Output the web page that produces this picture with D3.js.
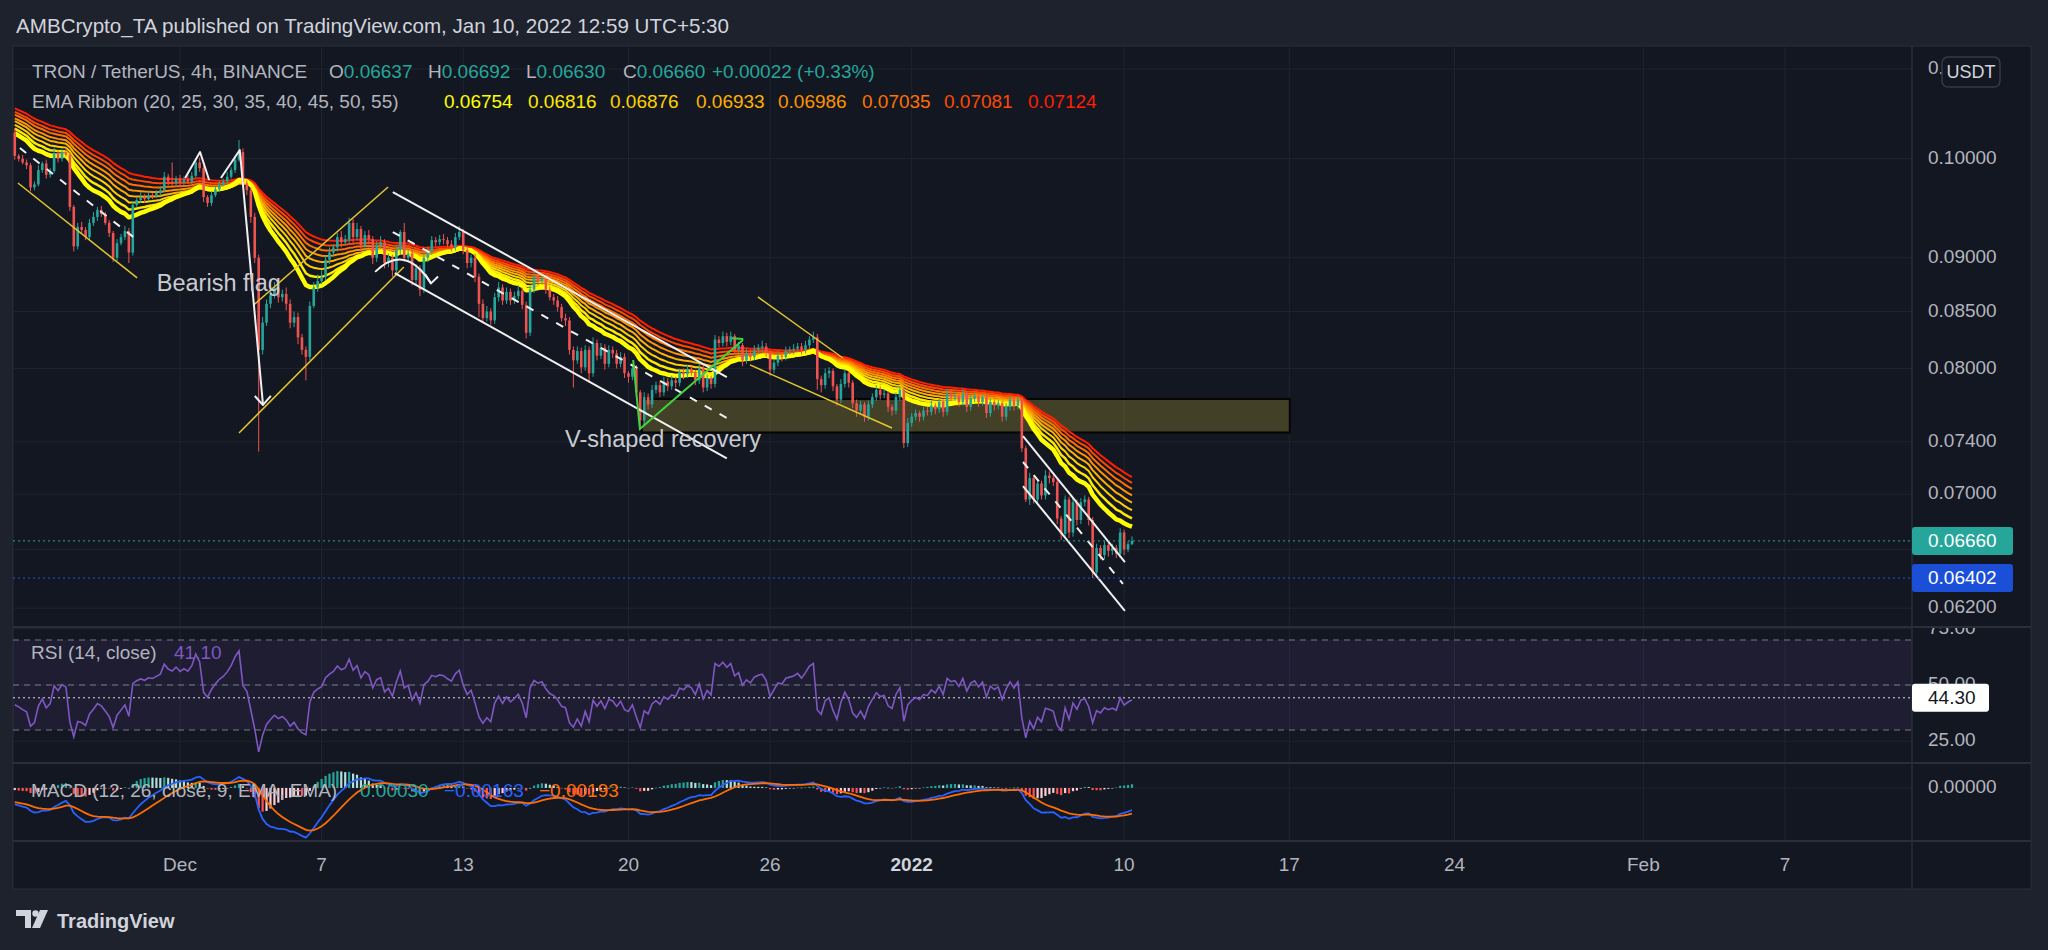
<!DOCTYPE html>
<html>
<head>
<meta charset="utf-8">
<script src="https://cdn.jsdelivr.net/npm/d3@7"></script>
<style>
  html, body { margin: 0; padding: 0; background: #1e222d; }
  svg { display: block; font-family: "Liberation Sans", Arial, sans-serif; }
</style>
</head>
<body>
<svg id="chart" width="2048" height="950"></svg>
<script>
// ---- data (prices in 1e-5 USDT, 4h bars from Nov 24 01:30 local) ----
const firstOpen = 10280;
const closes = [
  10030,10000,9960,9930,9700,9730,9880,9950,9830,9870,
  10060,10000,10070,10040,9500,9110,9300,9270,9200,9340,
  9400,9470,9430,9340,9240,9000,9140,9200,9260,9050,
  9520,9570,9600,9580,9620,9610,9640,9670,9810,9760,
  9740,9790,9750,9780,9760,9820,9960,9900,9600,9540,
  9620,9680,9730,9760,9810,9880,9990,10070,9740,9670,
  9400,9000,8160,8400,8570,8650,8720,8630,8660,8570,
  8400,8450,8270,8160,8100,8550,8720,8780,8820,8980,
  9050,9100,9200,9150,9180,9340,9200,9280,9120,9220,
  9180,9000,9120,9150,8950,9000,8880,9075,9250,9000,
  9040,8790,8900,8700,9000,9060,9170,9150,9180,9170,
  9130,9100,9200,9250,9075,8950,9000,8820,8570,8440,
  8500,8420,8630,8720,8600,8680,8600,8640,8690,8560,
  8310,8700,8820,8780,8800,8700,8630,8600,8540,8440,
  8420,8160,8070,8150,8010,8160,7960,8220,8110,8180,
  8040,8160,8130,8040,8100,7960,7930,8000,7800,7570,
  7760,7700,7820,7860,7800,7890,7850,7900,7880,7970,
  7950,7990,7970,7900,8000,7840,7920,7870,8250,8220,
  8280,8230,8280,8160,8200,8070,8130,8100,8160,8180,
  8190,8140,7990,8050,8110,8100,8150,8160,8170,8190,
  8160,8200,8250,8270,7910,7860,7960,7980,7850,7740,
  7870,7960,7880,7710,7650,7700,7600,7700,7760,7820,
  7780,7790,7680,7650,7760,7820,7390,7550,7600,7630,
  7600,7650,7640,7690,7660,7720,7640,7790,7760,7770,
  7720,7790,7680,7750,7770,7720,7760,7630,7720,7690,
  7710,7600,7680,7740,7690,7740,7350,6960,7120,6960,
  7080,6990,7140,7120,7090,6820,6710,6960,6720,6940,
  6810,6940,6960,6810,6440,6610,6560,6630,6590,6610,
  6570,6720,6600,6637,6660
];
const wickUp = [
  50,20,40,30,25,30,50,20,40,30, 60,30,40,45,30,20,40,50,30,40,
  50,30,40,20,30,20,40,30,50,30, 40,30,50,30,40,20,30,40,50,30,
  200,30,40,30,50,40,30,50,30,20, 40,30,40,30,50,30,40,130,40,30,
  30,40,30,50,40,60,50,80,40,60, 40,50,40,30,30,40,50,60,60,40,
  50,30,40,60,40,50,40,60,30,40, 50,30,40,60,30,40,30,50,20,90,
  40,30,40,30,40,50,40,30,40,50, 30,40,40,60,30,40,30,40,30,40,
  50,30,40,50,30,40,30,40,50,30, 30,40,60,40,30,40,30,30,40,30,
  40,30,30,40,30,40,30,50,30,40, 30,40,30,30,40,30,20,40,30,20,
  40,30,40,30,30,40,30,40,30,30, 30,40,30,20,40,30,30,20,40,30,
  40,30,40,20,30,20,40,30,40,30, 50,30,20,30,40,30,40,30,40,30,
  30,40,30,50,30,30,40,30,20,20, 40,30,20,20,30,30,20,30,30,40,
  30,30,20,20,40,30,20,40,30,30, 20,30,30,40,20,30,20,40,30,30,
  20,40,20,30,30,20,30,20,30,20, 30,20,30,30,20,30,20,20,40,20,
  30,20,40,30,20,20,20,30,20,30, 20,30,30,20,20,30,20,30,20,30,
  20,30,20,20,32
];
const wickDn = [
  40,30,20,40,40,30,20,30,40,30, 20,40,30,20,40,50,30,40,30,20,
  30,40,30,20,40,40,30,20,30,100, 30,20,30,40,20,30,20,30,20,40,
  30,20,40,30,20,30,20,40,50,40, 30,20,30,20,30,20,30,20,40,50,
  60,50,837,40,30,40,30,50,40,60, 50,40,60,40,200,30,20,40,30,30,
  40,30,40,50,30,40,60,30,60,40, 50,60,40,30,50,40,60,30,40,40,
  30,50,40,60,30,40,30,40,30,40, 30,40,30,30,40,50,40,50,120,40,
  30,40,30,40,40,30,40,30,30,40, 50,30,30,40,30,40,30,40,40,30,
  50,40,230,30,50,30,80,30,40,30, 50,30,40,40,30,40,50,30,40,60,
  40,40,30,30,40,30,40,30,40,30, 40,30,30,40,30,40,30,40,30,40,
  30,40,30,40,30,50,30,40,30,30, 40,40,50,30,30,40,30,30,40,30,
  40,30,30,30,90,60,30,40,40,50, 30,30,40,40,50,30,40,30,30,30,
  40,30,40,40,30,30,40,30,30,30, 40,30,30,30,40,30,40,30,30,30,
  40,30,40,30,30,40,30,40,30,40, 30,40,30,30,40,30,30,20,40,30,
  40,30,30,40,30,40,44,30,40,30, 40,30,30,40,38,30,30,30,40,30,
  30,30,40,20,7
];

const emaLengths = [20, 25, 30, 35, 40, 45, 50, 55];
const emaSeeds = [10300, 10350, 10390, 10430, 10460, 10500, 10530, 10570];
const emaColors = ["#ffff00", "#ffe800", "#ffcf00", "#ffb000", "#ff9200", "#ff7000", "#ff4800", "#ff1e00"];
const emaWidths = [4.5, 2.5, 2, 2, 2, 2, 2, 2];
const emaLegend = ["0.06754", "0.06816", "0.06876", "0.06933", "0.06986", "0.07035", "0.07081", "0.07124"];
const emaLegendX = [444, 528, 610, 696, 778, 862, 944, 1028];

const rsiSeed = { gain: 45, loss: 45 };
const macdSeed = { fast: 10250, slow: 10360, signal: -100 };

const priceTicks = [0.11, 0.10, 0.09, 0.085, 0.08, 0.074, 0.07, 0.066, 0.062];
const rsiTicks = [75, 50, 25];
const rsiLevels = [70, 50, 30];
const timeLabels = ["Dec", "7", "13", "20", "26", "2022", "10", "17", "24", "Feb", "7"];
const timeDates = ["2021-12-01", "2021-12-07", "2021-12-13", "2021-12-20", "2021-12-26", "2022-01-01",
                   "2022-01-10", "2022-01-17", "2022-01-24", "2022-02-01", "2022-02-07"];

// drawings, in [bar index, price]
const yellowLines = [
  [[0.8, 0.09745], [31.1, 0.08809]],
  [[57.0, 0.0747], [98.9, 0.08912]],
  [[60.8, 0.08561], [94.9, 0.09703]],
  [[188.9, 0.08633], [210.5, 0.0809]],
  [[186.9, 0.08031], [223.0, 0.0751]]
];
const whiteLines = [
  [[43.3, 0.09797], [47.1, 0.10071], [49.4, 0.09776]],
  [[52.4, 0.09797], [57.2, 0.10093], [63.1, 0.07696]],
  [[61.0, 0.0777], [63.1, 0.07696], [65.1, 0.0777]],
  [[96.1, 0.09652], [181.0, 0.07928]],
  [[96.6, 0.08855], [181.0, 0.0727]],
  [[256.3, 0.07446], [282.2, 0.06512]],
  [[256.3, 0.0706], [282.2, 0.06182]],
  [[104.3, 0.08845], [105.8, 0.08758], [107.6, 0.08823]]
];
const whiteDashed = [
  [[1.3, 0.10114], [31.1, 0.09172]],
  [[96.1, 0.0925], [181.0, 0.0759]],
  [[256.3, 0.07243], [281.7, 0.06363]]
];
const curvedArrow = [[91.6, 0.08866], [99.2, 0.0915], [105.8, 0.08758]];
const greenLines = [
  [[157.2, 0.08073], [158.9, 0.07502], [185.1, 0.08247]],
  [[182.3, 0.08262], [185.2, 0.08255]]
];
const zoneBox = { from: 159.4, to: 324.1, top: 0.07745, bottom: 0.07474 };
const notes = [
  { text: "Bearish flag", i: 36.1, p: 0.08744 },
  { text: "V-shaped recovery", i: 139.9, p: 0.07407 }
];

// ---- layout ----
const L = 13, R = 1912, AR = 2031, TOP = 46, MAIN_B = 627, RSI_B = 763, MACD_B = 841, AX_B = 889;
const svg = d3.select("#chart");

const t0 = Date.UTC(2021, 10, 24, 1, 30);
const barMs = 4 * 3600 * 1000;
const x = d3.scaleUtc()
  .domain([new Date("2021-12-01T01:30Z"), new Date("2022-02-07T01:30Z")])
  .range([180, 1785]);
const xi = i => x(new Date(t0 + i * barMs));
const y = d3.scaleLog().domain([0.1, 0.062]).range([158.7, 608.2]);
const yRsi = d3.scaleLinear().domain([30, 70]).range([730, 640]);
const yMacd = d3.scaleLinear().domain([-0.0039, 0.0018]).range([841.4, 763.3]);

// candles
const candles = closes.map((c, i) => {
  const o = i === 0 ? firstOpen : closes[i - 1];
  return { i, o: o / 1e5, c: c / 1e5, h: (Math.max(o, c) + wickUp[i]) / 1e5, l: (Math.min(o, c) - wickDn[i]) / 1e5 };
});

// indicators
const emas = emaLengths.map((n, k) => {
  const a = 2 / (n + 1);
  let e = emaSeeds[k];
  return closes.map(c => (e = a * c + (1 - a) * e) / 1e5);
});
let ag = rsiSeed.gain, al = rsiSeed.loss, prev = firstOpen;
const rsi = closes.map(c => {
  const d = c - prev; prev = c;
  ag = (ag * 13 + Math.max(d, 0)) / 14;
  al = (al * 13 + Math.max(-d, 0)) / 14;
  return 100 - 100 / (1 + ag / al);
});
let ef = macdSeed.fast, es = macdSeed.slow, sg = macdSeed.signal;
const macd = closes.map(c => {
  ef = c * 2 / 13 + ef * 11 / 13;
  es = c * 2 / 27 + es * 25 / 27;
  const m = ef - es;
  sg = m * 0.2 + sg * 0.8;
  return { m: m / 1e5, s: sg / 1e5, h: (m - sg) / 1e5 };
});

// ---- backgrounds ----
svg.append("rect").attr("width", 2048).attr("height", 950).attr("fill", "#1e222d");
svg.append("rect").attr("x", L).attr("y", TOP).attr("width", AR - L).attr("height", AX_B - TOP)
  .attr("fill", "#131722").attr("stroke", "#2a2e39");

const defs = svg.append("defs");
function clip(id, y0, y1) {
  defs.append("clipPath").attr("id", id).append("rect")
    .attr("x", L).attr("y", y0).attr("width", R - L).attr("height", y1 - y0);
}
clip("cMain", TOP, MAIN_B); clip("cRsi", MAIN_B, RSI_B); clip("cMacd", RSI_B, MACD_B);
defs.append("clipPath").attr("id", "cRsiAxis").append("rect")
  .attr("x", R).attr("y", MAIN_B + 1).attr("width", AR - R).attr("height", RSI_B - MAIN_B - 1);

const gridColor = "#20242f";
// vertical grid
timeDates.forEach(d => {
  const xx = x(new Date(d + "T01:30Z"));
  svg.append("line").attr("x1", xx).attr("x2", xx).attr("y1", TOP).attr("y2", MACD_B)
    .attr("stroke", gridColor).attr("stroke-width", 1);
});
// horizontal grid main
priceTicks.forEach(p => {
  svg.append("line").attr("x1", L).attr("x2", R).attr("y1", y(p)).attr("y2", y(p))
    .attr("stroke", gridColor);
});

// ---- main pane ----
const main = svg.append("g").attr("clip-path", "url(#cMain)");

main.append("rect")
  .attr("x", xi(zoneBox.from)).attr("y", y(zoneBox.top))
  .attr("width", xi(zoneBox.to) - xi(zoneBox.from)).attr("height", y(zoneBox.bottom) - y(zoneBox.top))
  .attr("fill", "#ffeb3b").attr("fill-opacity", 0.2).attr("stroke", "#050505").attr("stroke-width", 2);

const lineP = d3.line().x((d, i) => xi(i)).y(d => y(d));
emas.slice().reverse().forEach((e, kk) => {
  const k = emas.length - 1 - kk;
  main.append("path").datum(e).attr("d", lineP)
    .attr("fill", "none").attr("stroke", emaColors[k]).attr("stroke-width", emaWidths[k])
    .attr("stroke-linejoin", "round");
});

const cg = main.append("g");
cg.selectAll("line").data(candles).enter().append("line")
  .attr("x1", d => xi(d.i)).attr("x2", d => xi(d.i))
  .attr("y1", d => y(d.h)).attr("y2", d => y(d.l))
  .attr("stroke", d => d.c >= d.o ? "#26a69a" : "#ef5350").attr("stroke-width", 1);
cg.selectAll("rect").data(candles).enter().append("rect")
  .attr("x", d => xi(d.i) - 1.3).attr("width", 2.6)
  .attr("y", d => y(Math.max(d.o, d.c)))
  .attr("height", d => Math.max(1, y(Math.min(d.o, d.c)) - y(Math.max(d.o, d.c))))
  .attr("fill", d => d.c >= d.o ? "#26a69a" : "#ef5350");

const lineD = d3.line().x(d => xi(d[0])).y(d => y(d[1]));
yellowLines.forEach(l => main.append("path").attr("d", lineD(l)).attr("fill", "none")
  .attr("stroke", "#e3c72c").attr("stroke-width", 1.5));
whiteLines.forEach(l => main.append("path").attr("d", lineD(l)).attr("fill", "none")
  .attr("stroke", "#f0f0f0").attr("stroke-width", 2).attr("stroke-linejoin", "round"));
whiteDashed.forEach(l => main.append("path").attr("d", lineD(l)).attr("fill", "none")
  .attr("stroke", "#f0f0f0").attr("stroke-width", 2).attr("stroke-dasharray", "8,9"));
main.append("path")
  .attr("d", `M${xi(curvedArrow[0][0])},${y(curvedArrow[0][1])} Q${xi(curvedArrow[1][0])},${y(curvedArrow[1][1])} ${xi(curvedArrow[2][0])},${y(curvedArrow[2][1])}`)
  .attr("fill", "none").attr("stroke", "#f0f0f0").attr("stroke-width", 2);
greenLines.forEach(l => main.append("path").attr("d", lineD(l)).attr("fill", "none")
  .attr("stroke", "#3fd43f").attr("stroke-width", 2));

notes.forEach(n => main.append("text").attr("x", xi(n.i)).attr("y", y(n.p))
  .attr("dominant-baseline", "middle").attr("font-size", 23.5).attr("fill", "#c9cbd0").text(n.text));

// last price / low lines
const lastPrice = 0.0666, lowPrice = 0.06402;
main.append("line").attr("x1", L).attr("x2", R).attr("y1", y(lastPrice)).attr("y2", y(lastPrice))
  .attr("stroke", "#26a69a").attr("stroke-dasharray", "2,3");
main.append("line").attr("x1", L).attr("x2", R).attr("y1", y(lowPrice)).attr("y2", y(lowPrice))
  .attr("stroke", "#2456e0").attr("stroke-dasharray", "2,3");

// ---- RSI pane ----
const rg = svg.append("g").attr("clip-path", "url(#cRsi)");
rsiTicks.forEach(v => rg.append("line").attr("x1", L).attr("x2", R).attr("y1", yRsi(v)).attr("y2", yRsi(v)).attr("stroke", gridColor));
rg.append("rect").attr("x", L).attr("width", R - L).attr("y", yRsi(70)).attr("height", yRsi(30) - yRsi(70))
  .attr("fill", "#7e57c2").attr("fill-opacity", 0.1);
rsiLevels.forEach(v => rg.append("line").attr("x1", L).attr("x2", R).attr("y1", yRsi(v)).attr("y2", yRsi(v))
  .attr("stroke", "#787b86").attr("stroke-dasharray", "6,5"));
rg.append("line").attr("x1", L).attr("x2", R).attr("y1", yRsi(44.3)).attr("y2", yRsi(44.3))
  .attr("stroke", "#e0e0e0").attr("stroke-dasharray", "2,3");
rg.append("path").datum(rsi).attr("d", d3.line().x((d, i) => xi(i)).y(d => yRsi(d)))
  .attr("fill", "none").attr("stroke", "#7e57c2").attr("stroke-width", 1.6);

// ---- MACD pane ----
const mg = svg.append("g").attr("clip-path", "url(#cMacd)");
mg.append("line").attr("x1", L).attr("x2", R).attr("y1", yMacd(0)).attr("y2", yMacd(0)).attr("stroke", gridColor);
mg.selectAll("rect").data(macd).enter().append("rect")
  .attr("x", (d, i) => xi(i) - 1.1).attr("width", 2.2)
  .attr("y", d => Math.min(yMacd(0), yMacd(d.h)))
  .attr("height", d => Math.max(0.5, Math.abs(yMacd(d.h) - yMacd(0))))
  .attr("fill", (d, i) => {
    const p = i ? macd[i - 1].h : d.h;
    if (d.h >= 0) return d.h > p ? "#26a69a" : "#b2dfdb";
    return d.h < p ? "#ff5252" : "#ffcdd2";
  });
mg.append("path").datum(macd).attr("d", d3.line().x((d, i) => xi(i)).y(d => yMacd(d.m)))
  .attr("fill", "none").attr("stroke", "#2962ff").attr("stroke-width", 1.8);
mg.append("path").datum(macd).attr("d", d3.line().x((d, i) => xi(i)).y(d => yMacd(d.s)))
  .attr("fill", "none").attr("stroke", "#ff6d00").attr("stroke-width", 1.8);

// ---- separators ----
[MAIN_B, RSI_B, MACD_B].forEach(v => svg.append("line").attr("x1", L).attr("x2", AR).attr("y1", v).attr("y2", v)
  .attr("stroke", "#2a2e39").attr("stroke-width", 2));
svg.append("line").attr("x1", R).attr("x2", R).attr("y1", TOP).attr("y2", AX_B).attr("stroke", "#2a2e39").attr("stroke-width", 1.5);

// ---- axes text ----
const axisFont = 19, axisCol = "#b2b5be";
priceTicks.forEach(p => svg.append("text").attr("x", 1928).attr("y", y(p)).attr("dominant-baseline", "middle")
  .attr("font-size", axisFont).attr("fill", axisCol).text(p.toFixed(5)));
const ra = svg.append("g").attr("clip-path", "url(#cRsiAxis)");
rsiTicks.forEach(v => ra.append("text").attr("x", 1928).attr("y", yRsi(v)).attr("dominant-baseline", "middle")
  .attr("font-size", axisFont).attr("fill", axisCol).text(v.toFixed(2)));
svg.append("text").attr("x", 1928).attr("y", yMacd(0)).attr("dominant-baseline", "middle")
  .attr("font-size", axisFont).attr("fill", axisCol).text("0.00000");

timeDates.forEach((d, k) => svg.append("text").attr("x", x(new Date(d + "T01:30Z"))).attr("y", 866)
  .attr("text-anchor", "middle").attr("dominant-baseline", "middle").attr("font-size", axisFont)
  .attr("font-weight", timeLabels[k] === "2022" ? "bold" : "normal")
  .attr("fill", timeLabels[k] === "2022" ? "#d1d4dc" : axisCol).text(timeLabels[k]));

// price badges
function badge(val, yy, bg, fg, w) {
  svg.append("rect").attr("x", R).attr("y", yy - 14).attr("width", w).attr("height", 28).attr("rx", 3).attr("fill", bg);
  svg.append("text").attr("x", 1928).attr("y", yy + 1).attr("dominant-baseline", "middle")
    .attr("font-size", axisFont).attr("fill", fg).text(val);
}
badge("0.06660", y(lastPrice), "#26a69a", "#ffffff", 101);
badge("0.06402", y(lowPrice), "#1c4fd8", "#ffffff", 101);
badge("44.30", yRsi(44.3), "#ffffff", "#131722", 77);

svg.append("rect").attr("x", 1942).attr("y", 57).attr("width", 58).attr("height", 30).attr("rx", 6)
  .attr("fill", "#131722").attr("stroke", "#363a45").attr("stroke-width", 1.5);
svg.append("text").attr("x", 1971).attr("y", 73).attr("text-anchor", "middle").attr("dominant-baseline", "middle")
  .attr("font-size", 18).attr("fill", "#d1d4dc").text("USDT");

// ---- legends ----
const fs = 19, grey = "#b2b5be", teal = "#26a69a";
svg.append("text").attr("x", 16).attr("y", 33).attr("font-size", 20.6).attr("fill", "#d1d4dc")
  .text("AMBCrypto_TA published on TradingView.com, Jan 10, 2022 12:59 UTC+5:30");

const l1 = svg.append("text").attr("y", 78).attr("font-size", fs).attr("fill", grey);
l1.append("tspan").attr("x", 32).text("TRON / TetherUS, 4h, BINANCE");
[["O", "0.06637", 329], ["H", "0.06692", 428], ["L", "0.06630", 526], ["C", "0.06660", 623]].forEach(([k, v, xx]) => {
  l1.append("tspan").attr("x", xx).text(k);
  l1.append("tspan").attr("fill", teal).text(v);
});
l1.append("tspan").attr("x", 712).attr("fill", teal).text("+0.00022 (+0.33%)");

const l2 = svg.append("text").attr("y", 108).attr("font-size", fs).attr("fill", grey);
l2.append("tspan").attr("x", 32).text("EMA Ribbon (20, 25, 30, 35, 40, 45, 50, 55)");
emaLegend.forEach((v, k) => l2.append("tspan").attr("x", emaLegendX[k]).attr("fill", emaColors[k]).text(v));

const l3 = svg.append("text").attr("y", 659).attr("font-size", fs).attr("fill", grey);
l3.append("tspan").attr("x", 31).text("RSI (14, close)");
l3.append("tspan").attr("x", 174).attr("fill", "#7e57c2").text("41.10");

const l4 = svg.append("text").attr("y", 797).attr("font-size", fs).attr("fill", grey);
l4.append("tspan").attr("x", 31).text("MACD (12, 26, close, 9, EMA, EMA)");
l4.append("tspan").attr("x", 360).attr("fill", teal).text("0.00030");
l4.append("tspan").attr("x", 444).attr("fill", "#2962ff").text("\u22120.00163");
l4.append("tspan").attr("x", 539).attr("fill", "#ff6d00").text("\u22120.00193");

// ---- footer logo ----
const logo = svg.append("g").attr("fill", "#d1d4dc");
logo.append("path").attr("d", "M16 910 H31 V928 H25 V916 H16 Z");
logo.append("circle").attr("cx", 35.5).attr("cy", 913.5).attr("r", 3.2);
logo.append("path").attr("d", "M40 910 H48 L40 928 H32 Z");
svg.append("text").attr("x", 57).attr("y", 928).attr("font-size", 20).attr("font-weight", 600)
  .attr("fill", "#d1d4dc").text("TradingView");
</script>
</body>
</html>
